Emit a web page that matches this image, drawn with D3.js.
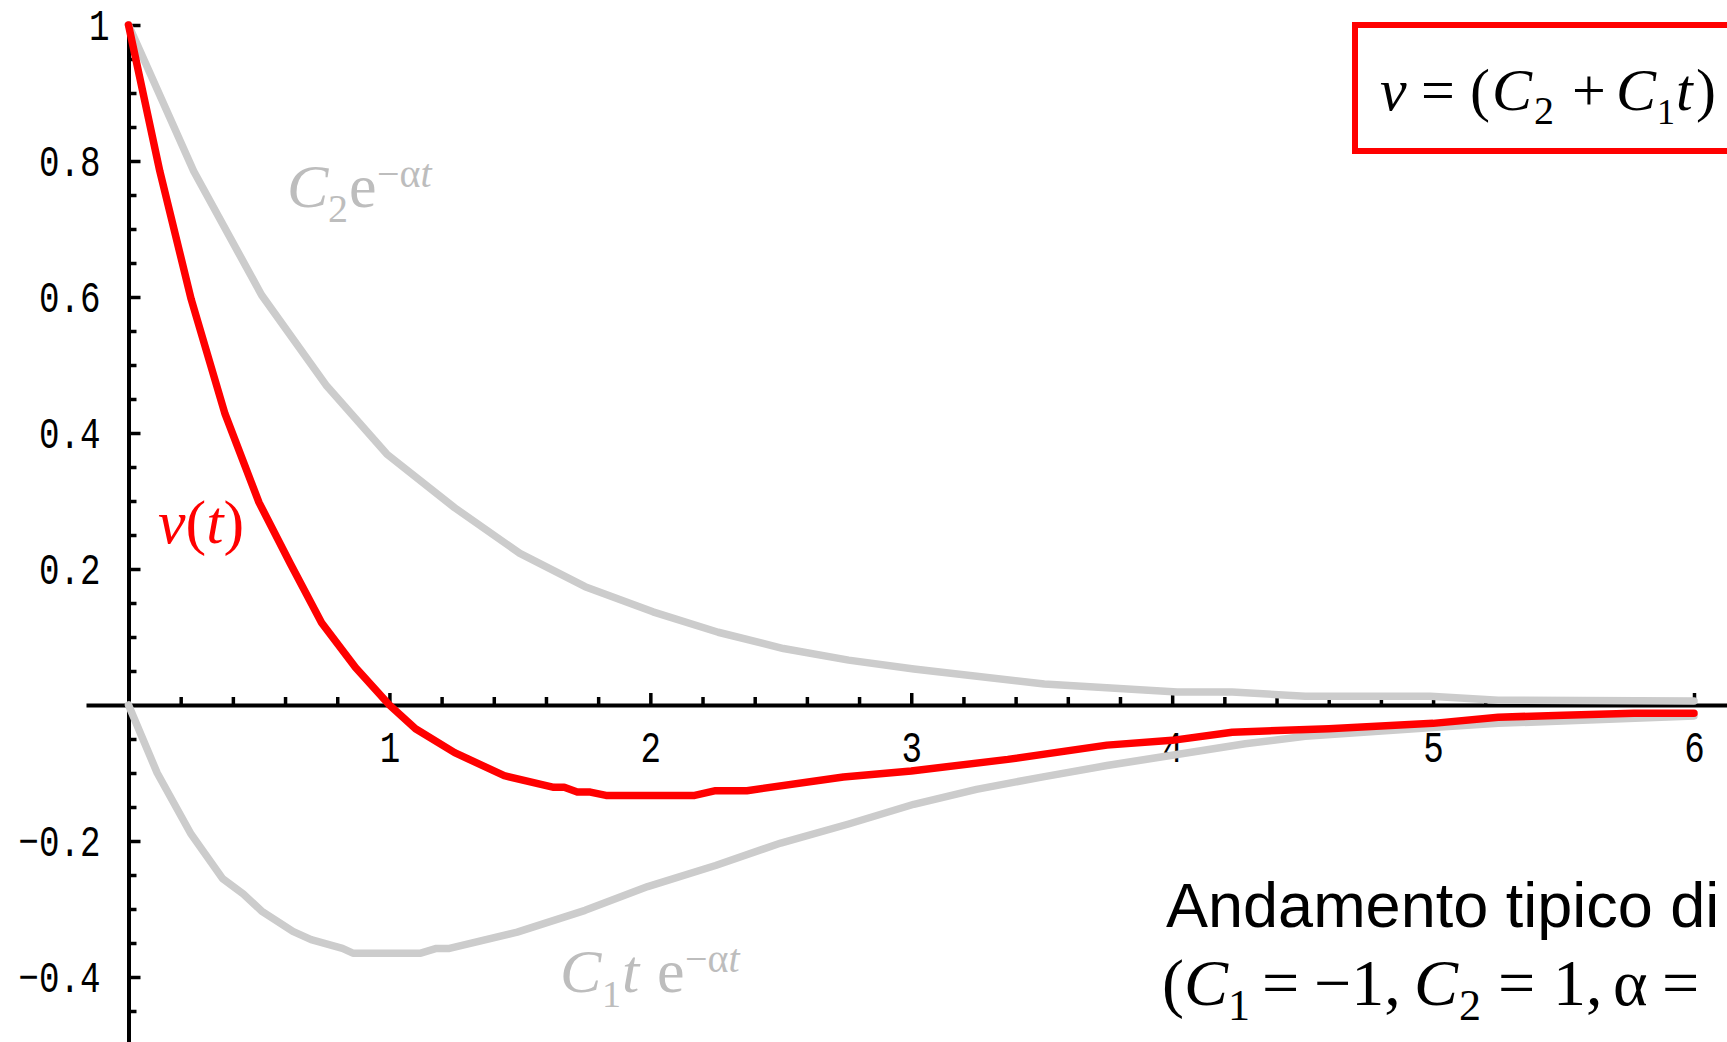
<!DOCTYPE html>
<html>
<head>
<meta charset="utf-8">
<script src="https://cdn.jsdelivr.net/npm/d3@7"></script>
<style>
html,body{margin:0;padding:0;background:#fff;overflow:hidden;}
svg{display:block;}
</style>
</head>
<body>
<svg id="chart" width="1727" height="1042"></svg>
<script>
// ---- data ----
const redT   = [0, 0.12, 0.24, 0.37, 0.50, 0.62, 0.74, 0.87, 1.00, 1.10, 1.25, 1.44, 1.63, 1.67, 1.72, 1.77, 1.83, 2.17, 2.25, 2.37, 2.74, 3.00, 3.37, 3.75, 4.00, 4.23, 4.60, 5.00, 5.25, 5.50, 5.77, 6.00];
const redV   = [1.0, 0.785, 0.597, 0.428, 0.298, 0.208, 0.121, 0.055, 0.0, -0.035, -0.070, -0.104, -0.121, -0.121, -0.128, -0.128, -0.133, -0.133, -0.126, -0.126, -0.106, -0.097, -0.080, -0.059, -0.052, -0.040, -0.035, -0.027, -0.018, -0.015, -0.012, -0.012];
const upperT = [0, 0.25, 0.51, 0.76, 0.99, 1.25, 1.50, 1.75, 2.01, 2.26, 2.51, 2.76, 3.01, 3.51, 4.02, 4.23, 4.51, 4.99, 5.25, 6.00];
const upperV = [1.0, 0.785, 0.603, 0.469, 0.369, 0.290, 0.223, 0.174, 0.137, 0.107, 0.083, 0.066, 0.053, 0.031, 0.019, 0.019, 0.013, 0.013, 0.007, 0.006];
const lowerT = [0, 0.11, 0.24, 0.36, 0.44, 0.51, 0.63, 0.70, 0.82, 0.86, 1.12, 1.18, 1.23, 1.49, 1.75, 1.99, 2.25, 2.50, 2.76, 3.01, 3.25, 3.50, 3.75, 4.00, 4.28, 4.51, 5.00, 5.25, 6.00];
const lowerV = [0, -0.100, -0.190, -0.255, -0.278, -0.303, -0.333, -0.345, -0.358, -0.365, -0.365, -0.358, -0.358, -0.334, -0.302, -0.267, -0.236, -0.203, -0.175, -0.146, -0.124, -0.106, -0.089, -0.074, -0.057, -0.046, -0.033, -0.027, -0.016];

const xMajorTicks = [1, 2, 3, 4, 5, 6];
const xTickLabels = ["1", "2", "3", "4", "5", "6"];
const xMinorTicks = [0.2,0.4,0.6,0.8,1.2,1.4,1.6,1.8,2.2,2.4,2.6,2.8,3.2,3.4,3.6,3.8,4.2,4.4,4.6,4.8,5.2,5.4,5.6,5.8];
const yMajorTicks = [1, 0.8, 0.6, 0.4, 0.2, -0.2, -0.4];
const yTickLabels = ["1", "0.8", "0.6", "0.4", "0.2", "\u22120.2", "\u22120.4"];
const yMinorTicks = [0.95,0.9,0.85,0.75,0.7,0.65,0.55,0.5,0.45,0.35,0.3,0.25,0.15,0.1,0.05,-0.05,-0.1,-0.15,-0.25,-0.3,-0.35,-0.45];

// ---- layout ----
const svg = d3.select("#chart");
const x = d3.scaleLinear().domain([0, 6]).range([128.5, 1694]);
const y = d3.scaleLinear().domain([0, 1]).range([705, 25]);
const xMin = x.invert(86), xMax = x.invert(1730);
const yMin = y.invert(1046);
const xA = d3.scaleLinear().domain([xMin, xMax]).range([x(xMin), x(xMax)]);
const yA = d3.scaleLinear().domain([yMin, 1]).range([y(yMin), y(1)]);

const axisColor = "#000";
const SX = 0.76;

// x axis
const gx = svg.append("g").attr("transform", `translate(0,${y(0)})`);
gx.append("g").call(d3.axisTop(xA).tickValues(xMinorTicks).tickSize(8).tickSizeOuter(0).tickFormat(""))
  .call(g => g.select(".domain").attr("stroke-width", 4).attr("stroke", axisColor))
  .call(g => g.selectAll(".tick line").attr("stroke-width", 3.5).attr("stroke", axisColor));
gx.append("g").call(d3.axisTop(xA).tickValues(xMajorTicks).tickSize(12).tickSizeOuter(0).tickFormat((d, i) => xTickLabels[i]))
  .call(g => g.select(".domain").remove())
  .call(g => g.selectAll(".tick line").attr("stroke-width", 3.5).attr("stroke", axisColor))
  .call(g => g.selectAll(".tick text")
      .attr("y", 57).attr("dy", null).attr("x", 0)
      .attr("text-anchor", "middle")
      .attr("transform", `scale(${SX},1)`)
      .attr("fill", "#000")
      .style("font-family", "'Liberation Mono', monospace")
      .style("font-size", "45px"));

// y axis
const gy = svg.append("g").attr("transform", `translate(${x(0)},0)`);
gy.append("g").call(d3.axisRight(yA).tickValues(yMinorTicks).tickSize(8).tickSizeOuter(0).tickFormat(""))
  .call(g => g.select(".domain").attr("stroke-width", 4).attr("stroke", axisColor))
  .call(g => g.selectAll(".tick line").attr("stroke-width", 3.5).attr("stroke", axisColor));
gy.append("g").call(d3.axisRight(yA).tickValues(yMajorTicks).tickSize(12).tickSizeOuter(0).tickFormat((d, i) => yTickLabels[i]))
  .call(g => g.select(".domain").remove())
  .call(g => g.selectAll(".tick line").attr("stroke-width", 3.5).attr("stroke", axisColor))
  .call(g => g.selectAll(".tick text")
      .attr("x", d => (d === 1 ? -19 : -28) / SX).attr("dy", null).attr("y", 14)
      .attr("text-anchor", "end")
      .attr("transform", `scale(${SX},1)`)
      .attr("fill", "#000")
      .style("font-family", "'Liberation Mono', monospace")
      .style("font-size", "45px"));

// curves
const line = d3.line().x(d => x(d[0])).y(d => y(d[1]));
const grey = "#cccccc";
svg.append("path").datum(d3.zip(upperT, upperV)).attr("d", line)
  .attr("fill", "none").attr("stroke", grey).attr("stroke-width", 7.5)
  .attr("stroke-linecap", "round").attr("stroke-linejoin", "round");
svg.append("path").datum(d3.zip(lowerT, lowerV)).attr("d", line)
  .attr("fill", "none").attr("stroke", grey).attr("stroke-width", 7.5)
  .attr("stroke-linecap", "round").attr("stroke-linejoin", "round");
svg.append("path").datum(d3.zip(redT, redV)).attr("d", line)
  .attr("fill", "none").attr("stroke", "#ff0000").attr("stroke-width", 7.5)
  .attr("stroke-linecap", "round").attr("stroke-linejoin", "round");

// ---- text annotations ----
const serif = "'Liberation Serif', 'Times New Roman', serif";
const labelGrey = "#bdbdbd";

function piece(t, txt, opts) {
  const s = t.append("tspan").text(txt);
  if (opts.x !== undefined) s.attr("x", opts.x);
  if (opts.y !== undefined) s.attr("y", opts.y);
  s.style("font-size", (opts.size || 62) + "px");
  s.style("font-style", opts.italic ? "italic" : "normal");
  return s;
}

// C2 e^{-αt}
{
  const t = svg.append("text").attr("fill", labelGrey).style("font-family", serif);
  piece(t, "C", {x: 287, y: 207, italic: true});
  piece(t, "2", {x: 328, y: 222, size: 40});
  piece(t, "e", {x: 349, y: 207});
  piece(t, "\u2212\u03B1", {x: 377, y: 187, size: 40});
  piece(t, "t", {y: 187, size: 40, italic: true});
}
// C1 t e^{-αt}
{
  const t = svg.append("text").attr("fill", labelGrey).style("font-family", serif);
  piece(t, "C", {x: 560, y: 992, italic: true});
  piece(t, "1", {x: 602, y: 1007, size: 38});
  piece(t, "t", {x: 622, y: 992, italic: true});
  piece(t, "e", {x: 657, y: 992});
  piece(t, "\u2212\u03B1", {x: 685, y: 972, size: 40});
  piece(t, "t", {y: 972, size: 40, italic: true});
}
// v(t)
{
  const t = svg.append("text").attr("fill", "#ff0000").style("font-family", serif);
  piece(t, "v", {x: 158, y: 543, italic: true});
  piece(t, "(", {});
  piece(t, "t", {italic: true});
  piece(t, ")", {});
}

// formula box
svg.append("rect").attr("x", 1355).attr("y", 25).attr("width", 500).attr("height", 126)
  .attr("fill", "#fff").attr("stroke", "#ff0000").attr("stroke-width", 6);
{
  const t = svg.append("text").attr("fill", "#000").style("font-family", serif);
  piece(t, "v", {x: 1380, y: 110, size: 60, italic: true});
  piece(t, "=", {x: 1421, y: 110, size: 60});
  piece(t, "(", {x: 1470, y: 110, size: 60});
  piece(t, "C", {x: 1492, y: 110, size: 60, italic: true});
  piece(t, "2", {x: 1534, y: 124, size: 40});
  piece(t, "+", {x: 1572, y: 110, size: 60});
  piece(t, "C", {x: 1616, y: 110, size: 60, italic: true});
  piece(t, "1", {x: 1657, y: 124, size: 36});
  piece(t, "t", {x: 1676, y: 110, size: 60, italic: true});
  piece(t, ")", {x: 1696, y: 110, size: 60});
}

// caption
svg.append("text").attr("x", 1166).attr("y", 927).attr("fill", "#000")
  .style("font-family", "'Liberation Sans', Arial, sans-serif").style("font-size", "63px")
  .text("Andamento tipico di");
{
  const t = svg.append("text").attr("fill", "#000").style("font-family", serif);
  piece(t, "(", {x: 1162, y: 1005, size: 66});
  piece(t, "C", {x: 1184, y: 1005, size: 66, italic: true});
  piece(t, "1", {x: 1228, y: 1020, size: 44});
  piece(t, "=", {x: 1262, y: 1005, size: 66});
  piece(t, "\u22121,", {x: 1314, y: 1005, size: 66});
  piece(t, "C", {x: 1414, y: 1005, size: 66, italic: true});
  piece(t, "2", {x: 1459, y: 1020, size: 44});
  piece(t, "=", {x: 1498, y: 1005, size: 66});
  piece(t, "1,", {x: 1553, y: 1005, size: 66});
  piece(t, "\u03B1", {x: 1613, y: 1005, size: 66});
  piece(t, "=", {x: 1662, y: 1005, size: 66});
}
</script>
</body>
</html>
